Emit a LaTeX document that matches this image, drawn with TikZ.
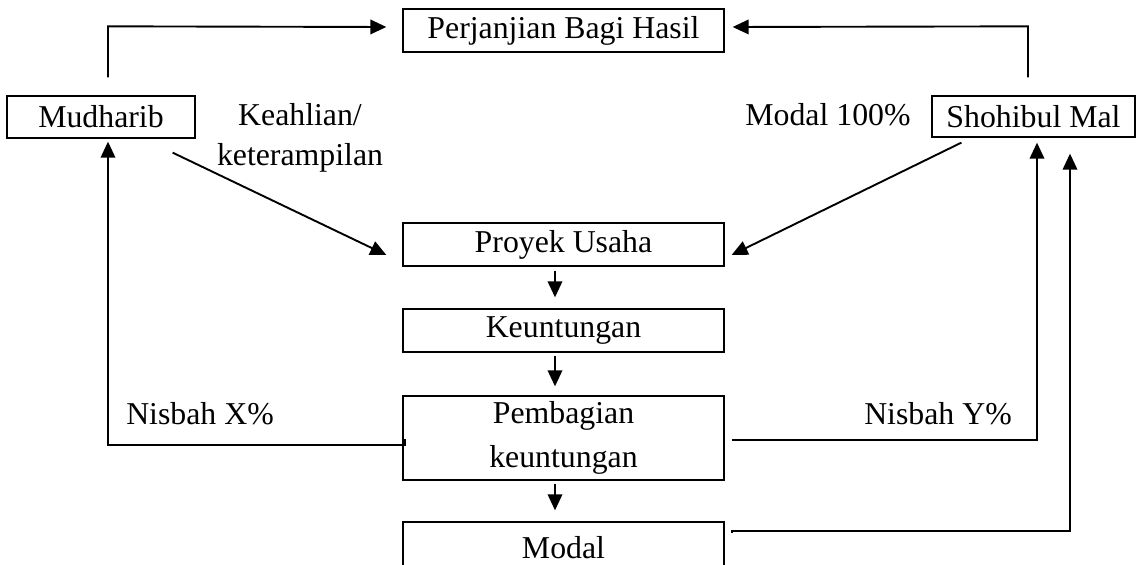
\documentclass[tikz,border=0pt]{standalone}
\usepackage{fontspec}
\setmainfont{Liberation Serif}
\usetikzlibrary{arrows.meta}
\begin{document}
\begin{tikzpicture}[x=1pt,y=1pt,
  box/.style={draw, line width=1.3pt, minimum width=321pt, inner sep=0pt,
    align=center, font=\fontsize{31.8}{44}\selectfont},
  txt/.style={font=\fontsize{31.8}{38}\selectfont, inner sep=0pt, anchor=base},
  flow/.style={line width=1.9pt, -{Triangle[length=16pt,width=14.5pt]}}]
\clip (0,0) rectangle (1136,565);

% parties and agreement
\node[box, minimum height=43pt] (perj) at (563.5,534.5) {Perjanjian Bagi Hasil};
\node[box, minimum width=188pt, minimum height=42pt] (mud) at (101,448) {Mudharib};
\node[box, minimum width=203pt, minimum height=41pt] (shoh) at (1033.5,448.5) {Shohibul Mal};

% central chain
\node[box, minimum height=43pt] (proy) at (563.5,320.5) {Proyek Usaha};
\node[box, minimum height=43pt] (keu) at (563.5,234.5) {Keuntungan};
\node[box, minimum height=84pt] (pemb) at (563.5,127) {Pembagian\\keuntungan};
\node[box, minimum height=52pt] (modal) at (563.5,17) {Modal};

% side labels
\node[txt] (keah) at (300,439) {Keahlian/};
\node[txt] (ket) at (300,399) {keterampilan};
\node[txt] (m100) at (828,439) {Modal 100\%};
\node[txt] (nx) at (200,140) {Nisbah X\%};
\node[txt] (ny) at (938,140) {Nisbah Y\%};

% agreement links
\draw[flow] ([shift={(7,18)}]mud.north) -- ++(0,51) -- ([shift={(-16,3.5)}]perj.west);
\draw[flow] ([shift={(-5.5,18)}]shoh.north) -- ++(0,51) -- ([shift={(8,3.5)}]perj.east);

% contributions to the project
\draw[flow] ([shift={(-23,-14)}]mud.south east) -- ([shift={(-16,-10.5)}]proy.west);
\draw[flow] ([shift={(30,-5)}]shoh.south west) -- ([shift={(7,-10.5)}]proy.east);

% chain arrows
\draw[flow] ([shift={(-8.5,-4)}]proy.south) -- ([shift={(-8.5,11)}]keu.north);
\draw[flow] ([shift={(-8.5,-3)}]keu.south) -- ([shift={(-8.5,9)}]pemb.north);
\draw[flow] ([shift={(-8.5,-3)}]pemb.south) -- ([shift={(-8.5,11)}]modal.north);

% profit shares and capital return
\draw[flow] ([shift={(3,-1)}]pemb.west) -- ++(0,-6) -| ([shift={(7,-3)}]mud.south);
\draw[flow] ([shift={(7,-2)}]pemb.east) -| ([shift={(3.5,-5)}]shoh.south);
\draw[flow] ([shift={(7,15)}]modal.east) -- ++(0,2) -| ([shift={(36.5,-16)}]shoh.south);
\end{tikzpicture}
\end{document}
